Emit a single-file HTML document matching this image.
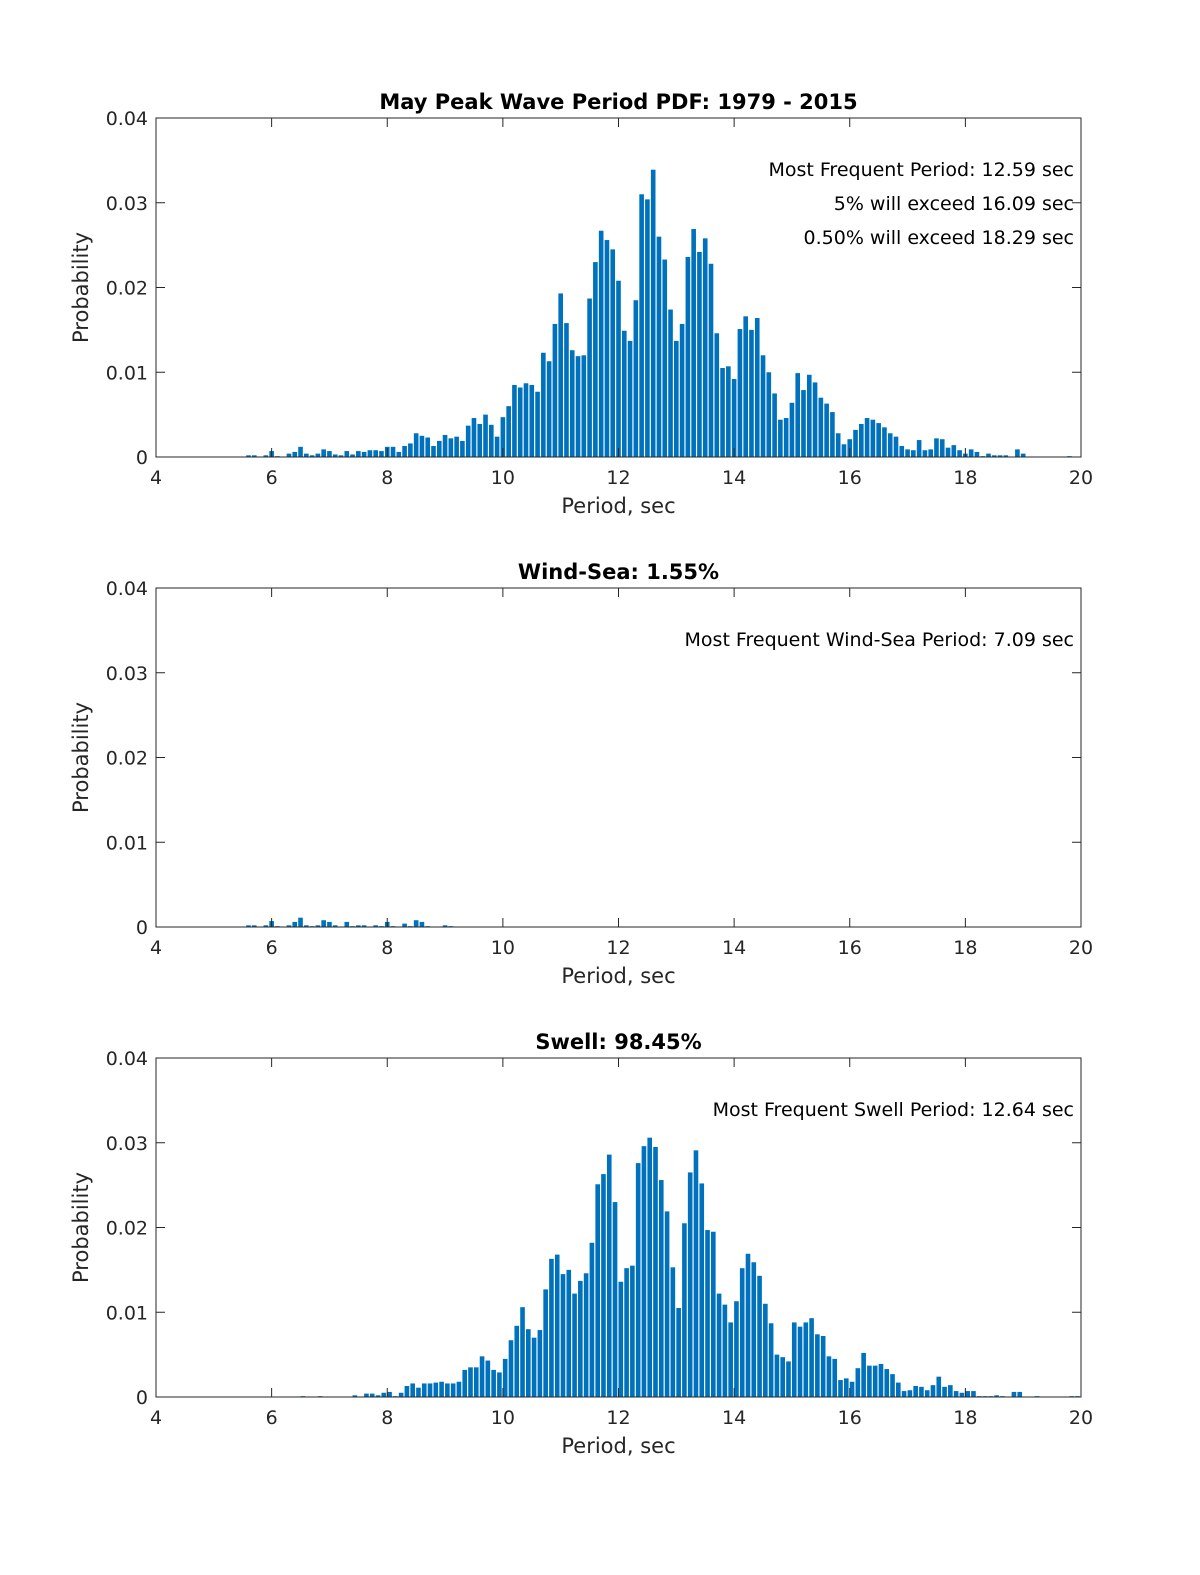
<!DOCTYPE html>
<html><head><meta charset="utf-8"><style>
html,body{margin:0;padding:0;background:#fff;overflow:hidden;width:1200px;height:1575px;}
svg{display:block;}
svg text{font-family:"DejaVu Sans","Liberation Sans",sans-serif;}
</style></head><body>
<svg id="fig" width="1200" height="1575" viewBox="0 0 1200 1575" xmlns="http://www.w3.org/2000/svg"></svg>
<script>
// ---- data ----
const xTicks = [4, 6, 8, 10, 12, 14, 16, 18, 20];
const yTicks = [0, 0.01, 0.02, 0.03, 0.04];
const yTickLabels = ["0", "0.01", "0.02", "0.03", "0.04"];
const binWidth = 0.1;

const allStart = 5.6;
const allValues = [0.0002,0.0002,0,0.0002,0.0007,0.0001,0,0.0004,0.0006,0.0012,0.0004,0.0002,0.0004,0.0009,0.0007,0.0003,0.0002,0.0007,0.0003,0.0007,0.0006,0.0008,0.0008,0.0007,0.0012,0.0012,0.0006,0.0013,0.0016,0.0028,0.0025,0.0023,0.0013,0.0019,0.0026,0.0022,0.0024,0.0019,0.0037,0.0046,0.0039,0.005,0.0038,0.0024,0.0047,0.006,0.0085,0.0082,0.0087,0.0085,0.0077,0.0123,0.0113,0.0157,0.0193,0.0158,0.0126,0.0119,0.012,0.0187,0.023,0.0267,0.0256,0.0245,0.0208,0.0149,0.0137,0.0185,0.031,0.0304,0.0339,0.026,0.0233,0.0174,0.0137,0.0157,0.0236,0.0269,0.0242,0.0258,0.0228,0.0146,0.0105,0.0107,0.0092,0.0151,0.0166,0.015,0.0164,0.012,0.01,0.0075,0.0044,0.0046,0.0064,0.0099,0.0079,0.0097,0.0088,0.007,0.0063,0.0053,0.0028,0.0015,0.0021,0.0032,0.0039,0.0046,0.0044,0.004,0.0035,0.0028,0.0024,0.0013,0.0009,0.0008,0.002,0.0008,0.0009,0.0022,0.0021,0.0011,0.0014,0.0008,0.0004,0.0009,0.0006,0.0001,0.0004,0.0002,0.0002,0.0002,0,0.0009,0.0004,0,0,0,0,0,0,0,0.0001];

const windStart = 5.6;
const windValues = [0.0002,0.0002,0,0.0002,0.0007,0.0001,0,0.0002,0.0006,0.0011,0.0002,0.0001,0.0002,0.0008,0.0006,0.0002,0,0.0006,0.0001,0.0002,0.0002,0,0.0002,0.0001,0.0006,0.0001,0,0.0004,0.0001,0.0008,0.0006,0.0001,0,0,0.0002,0.0001];

const swellStart = 6.54;
const swellValues = [0.0001,0,0,0.0001,0,0,0,0,0,0.0002,0,0.0004,0.0004,0.0002,0.0005,0.0006,0.0001,0.0005,0.0013,0.0016,0.0011,0.0016,0.0016,0.0017,0.0018,0.0016,0.0016,0.0018,0.0032,0.0035,0.0035,0.0048,0.0043,0.0032,0.0029,0.0045,0.0067,0.0084,0.0106,0.008,0.007,0.0079,0.0127,0.0163,0.0168,0.0145,0.015,0.0122,0.0137,0.0146,0.0182,0.0251,0.0263,0.0286,0.023,0.0136,0.0152,0.0155,0.0276,0.0296,0.0306,0.0295,0.0256,0.0219,0.0153,0.0105,0.0205,0.0265,0.0291,0.0252,0.0197,0.0195,0.0122,0.0109,0.0088,0.0113,0.0152,0.0169,0.0159,0.0143,0.011,0.0087,0.005,0.0047,0.0042,0.0088,0.0083,0.0088,0.0093,0.0074,0.0072,0.0048,0.0045,0.002,0.0022,0.0018,0.0034,0.0052,0.0037,0.0037,0.0039,0.0033,0.0027,0.0017,0.0007,0.0008,0.0013,0.0012,0.0008,0.0014,0.0024,0.0012,0.0014,0.0007,0.0005,0.0007,0.0007,0.0001,0.0001,0.0001,0.0002,0.0001,0,0.0006,0.0006,0,0,0.0001,0,0,0,0,0,0.0001,0.0001];

// ---- drawing ----
const NS = "http://www.w3.org/2000/svg";
const svg = document.getElementById("fig");
const L = 156, R = 1081, H = 339;
function mk(tag, attrs, parent){ const e=document.createElementNS(NS,tag); for(const k in attrs) e.setAttribute(k,attrs[k]); (parent||svg).appendChild(e); return e; }

function drawPanel(top, key, title, start, values, notes){
  const g = mk("g", {});
  
  
  const bottom = top + H;
  const xs = v => L + (v - 4) / 16 * (R - L);
  const ys = p => bottom - p / 0.04 * H;
  const bw = binWidth * 0.8 / 16 * (R - L);
  values.forEach((p, i) => {
    if (p <= 0) return;
    const c = start + i * binWidth;
    const r = mk("rect", {x: xs(c) - bw/2, y: ys(p), width: bw, height: bottom - ys(p), fill: "#0072BD"}, g);
    
    
  });
  const box = mk("rect", {x: L, y: top, width: R - L, height: H, fill: "none", stroke: "#262626", "stroke-width": 1}, g);
  
  
  xTicks.forEach(t => {
    const x = xs(t);
    mk("line", {x1: x, x2: x, y1: bottom, y2: bottom - 9, stroke: "#262626"}, g);
    mk("line", {x1: x, x2: x, y1: top, y2: top + 9, stroke: "#262626"}, g);
    const tx = mk("text", {x: x, y: bottom + 27, "text-anchor": "middle", "font-size": 19, fill: "#262626"}, g);
    tx.textContent = t;
    
    
  });
  yTicks.forEach((t, i) => {
    const y = ys(t);
    mk("line", {x1: L, x2: L + 9, y1: y, y2: y, stroke: "#262626"}, g);
    mk("line", {x1: R, x2: R - 9, y1: y, y2: y, stroke: "#262626"}, g);
    const tx = mk("text", {x: L - 8, y: y + 7, "text-anchor": "end", "font-size": 19, fill: "#262626"}, g);
    tx.textContent = yTickLabels[i];
    
    
  });
  const tt = mk("text", {x: (L + R) / 2, y: top - 9, "text-anchor": "middle", "font-size": 21, "font-weight": "bold", fill: "#000"}, g);
  tt.textContent = title;
  
  
  const xl = mk("text", {x: (L + R) / 2, y: bottom + 56, "text-anchor": "middle", "font-size": 21, fill: "#262626"}, g);
  xl.textContent = "Period, sec";
  
  
  const yl = mk("text", {x: 0, y: 0, "text-anchor": "middle", "font-size": 21, fill: "#262626", transform: "translate(88," + (top + H/2) + ") rotate(-90)"}, g);
  yl.textContent = "Probability";
  
  
  notes.forEach((n, i) => {
    const nt = mk("text", {x: 1074, y: top + 58 + i * 34, "text-anchor": "end", "font-size": 19, fill: "#000"}, g);
    nt.textContent = n;
    
    
  });
}

drawPanel(118, "all", "May Peak Wave Period PDF: 1979 - 2015", allStart, allValues,
  ["Most Frequent Period: 12.59 sec", "5% will exceed 16.09 sec", "0.50% will exceed 18.29 sec"]);
drawPanel(588, "wind-sea", "Wind-Sea: 1.55%", windStart, windValues,
  ["Most Frequent Wind-Sea Period: 7.09 sec"]);
drawPanel(1058, "swell", "Swell: 98.45%", swellStart, swellValues,
  ["Most Frequent Swell Period: 12.64 sec"]);
</script>
</body></html>
